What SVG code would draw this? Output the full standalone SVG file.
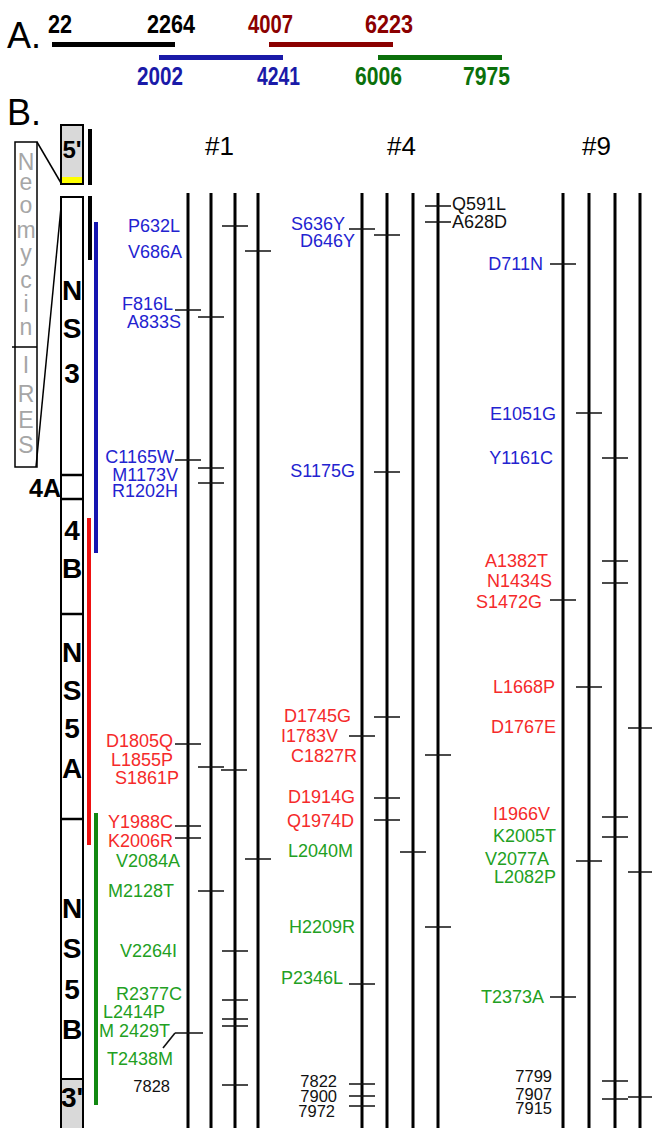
<svg xmlns="http://www.w3.org/2000/svg" width="652" height="1128" viewBox="0 0 652 1128">
<style>
text{font-family:"Liberation Sans",Arial,sans-serif}
.big{font-size:36px}
.num{font-size:26px;font-weight:bold}
.hdr{font-size:26px}
.lab{font-size:18px}
.e{text-anchor:end}
.bl{fill:#2323d0}
.rd{fill:#f52a2a}
.gr{fill:#22a022}
.k{fill:#111}
.n{font-size:16.5px}
.seg{font-size:28px;font-weight:bold;text-anchor:middle}
.neo{font-size:23px;fill:#a6a6a6;text-anchor:middle}
.col{stroke:#000;stroke-width:3}
.tk{stroke:#111;stroke-width:1.6}
</style>
<g id="partA">
<text class="big" x="7" y="48">A.</text>
<rect x="52" y="42" width="123" height="5" fill="#000"/>
<rect x="269" y="42" width="124" height="5" fill="#8b0000"/>
<rect x="159" y="55" width="124" height="5" fill="#1a1aa8"/>
<rect x="378" y="55" width="124" height="5" fill="#0b700b"/>
<text class="num" x="48" y="33" textLength="24" lengthAdjust="spacingAndGlyphs">22</text>
<text class="num" x="147" y="33" textLength="48" lengthAdjust="spacingAndGlyphs">2264</text>
<text class="num" x="248" y="33" textLength="45" lengthAdjust="spacingAndGlyphs" fill="#8b0000">4007</text>
<text class="num" x="365" y="33" textLength="48" lengthAdjust="spacingAndGlyphs" fill="#8b0000">6223</text>
<text class="num" x="137" y="85" textLength="46" lengthAdjust="spacingAndGlyphs" fill="#1a1aa8">2002</text>
<text class="num" x="257" y="85" textLength="43" lengthAdjust="spacingAndGlyphs" fill="#1a1aa8">4241</text>
<text class="num" x="355" y="85" textLength="47" lengthAdjust="spacingAndGlyphs" fill="#0b700b">6006</text>
<text class="num" x="463" y="85" textLength="47" lengthAdjust="spacingAndGlyphs" fill="#0b700b">7975</text>
</g>
<text class="big" x="7" y="125">B.</text>
<g id="neomycinIRES">
<rect x="15" y="142" width="22" height="325" fill="#fff" stroke="#000" stroke-width="1.5"/>
<line x1="12" y1="347" x2="37" y2="347" stroke="#000" stroke-width="1.5"/>
<line x1="37" y1="142" x2="61" y2="183" stroke="#000" stroke-width="1.5"/>
<line x1="36" y1="467" x2="62" y2="197" stroke="#000" stroke-width="1.5"/>
<text class="neo" x="26" y="170">N</text>
<text class="neo" x="26" y="190">e</text>
<text class="neo" x="26" y="213">o</text>
<text class="neo" x="26" y="238">m</text>
<text class="neo" x="26" y="261">y</text>
<text class="neo" x="26" y="288">c</text>
<text class="neo" x="26" y="312">i</text>
<text class="neo" x="26" y="335">n</text>
<text class="neo" x="26" y="373">I</text>
<text class="neo" x="26" y="402">R</text>
<text class="neo" x="26" y="428">E</text>
<text class="neo" x="26" y="453">S</text>
</g>
<g id="genome">
<rect x="61" y="125" width="22" height="59" fill="#d9d9d9" stroke="#000" stroke-width="2"/>
<rect x="62" y="177" width="20" height="6" fill="#ffff00"/>
<text x="72" y="158" font-size="24" font-weight="bold" text-anchor="middle">5'</text>
<rect x="61" y="197" width="22" height="940" fill="#fff" stroke="#000" stroke-width="2"/>
<rect x="61" y="1079" width="22" height="60" fill="#d9d9d9" stroke="#000" stroke-width="2"/>
<line x1="61" y1="475" x2="83" y2="475" stroke="#000" stroke-width="2.5"/>
<line x1="61" y1="499" x2="83" y2="499" stroke="#000" stroke-width="2.5"/>
<line x1="61" y1="614" x2="83" y2="614" stroke="#000" stroke-width="2.5"/>
<line x1="61" y1="819" x2="83" y2="819" stroke="#000" stroke-width="2.5"/>
<text class="seg" x="72" y="300">N</text>
<text class="seg" x="72" y="338">S</text>
<text class="seg" x="72" y="383">3</text>
<text x="45" y="497" font-size="25" font-weight="bold" text-anchor="middle">4A</text>
<text class="seg" x="72" y="540">4</text>
<text class="seg" x="72" y="578">B</text>
<text class="seg" x="72" y="662">N</text>
<text class="seg" x="72" y="700">S</text>
<text class="seg" x="72" y="738">5</text>
<text class="seg" x="72" y="778">A</text>
<text class="seg" x="72" y="918">N</text>
<text class="seg" x="72" y="958">S</text>
<text class="seg" x="72" y="999">5</text>
<text class="seg" x="72" y="1039">B</text>
<text class="seg" x="72" y="1107">3'</text>
<rect x="88" y="129" width="4" height="56" fill="#000"/>
<rect x="88" y="196" width="4" height="64" fill="#000"/>
<rect x="94" y="222" width="4" height="331" fill="#1515b0"/>
<rect x="87" y="518" width="4" height="327" fill="#ee1111"/>
<rect x="94" y="813" width="4" height="292" fill="#118811"/>
</g>
<g id="headers">
<text class="hdr" x="205" y="155">#1</text>
<text class="hdr" x="387" y="155">#4</text>
<text class="hdr" x="582" y="155">#9</text>
</g>
<g id="columns">
<line class="col" x1="188" y1="193" x2="188" y2="1128"/>
<line class="col" x1="211" y1="193" x2="211" y2="1128"/>
<line class="col" x1="235" y1="193" x2="235" y2="1128"/>
<line class="col" x1="258" y1="193" x2="258" y2="1128"/>
<line class="col" x1="362" y1="193" x2="362" y2="1128"/>
<line class="col" x1="387" y1="193" x2="387" y2="1128"/>
<line class="col" x1="413" y1="193" x2="413" y2="1128"/>
<line class="col" x1="438" y1="193" x2="438" y2="1128"/>
<line class="col" x1="563" y1="193" x2="563" y2="1128"/>
<line class="col" x1="589" y1="193" x2="589" y2="1128"/>
<line class="col" x1="615" y1="193" x2="615" y2="1128"/>
<line class="col" x1="640" y1="193" x2="640" y2="1128"/>
</g>
<g id="ticks">
<path class="tk" d="M222 226h26M245 251h26M175 310h26M198 317h26M175 460h26M198 468h26M198 483h26M175 744h26M198 767h26M221 770h26M175 826h26M175 838h26M245 859h26M198 891h26M222 951h26M222 1000h26M222 1019h26M222 1026h26M175 1033h28M222 1085h26"/>
<path class="tk" d="M175 1033L163 1048"/>
<path class="tk" d="M425 206h26M425 222h26M349 229h26M374 235h26M374 472h26M374 717h26M349 736h26M425 755h26M374 798h26M374 820h26M400 852h26M425 927h26M349 984h26M349 1084h26M349 1096h26M349 1106h26"/>
<path class="tk" d="M550 264h26M576 413h26M602 458h26M602 561h26M602 583h26M550 600h26M576 687h26M628 728h26M602 817h26M602 837h26M576 861h26M628 872h26M550 997h26M602 1081h26M602 1099h26M628 1097h26"/>
</g>
<g id="labels1" class="lab">
<text class="e bl" x="180" y="232">P632L</text>
<text class="e bl" x="182" y="258">V686A</text>
<text class="e bl" x="173" y="310">F816L</text>
<text class="e bl" x="181" y="328">A833S</text>
<text class="e bl" x="174" y="463">C1165W</text>
<text class="e bl" x="178" y="481">M1173V</text>
<text class="e bl" x="178" y="497">R1202H</text>
<text class="e rd" x="173" y="747">D1805Q</text>
<text class="e rd" x="173" y="766">L1855P</text>
<text class="e rd" x="179" y="784">S1861P</text>
<text class="e rd" x="173" y="828">Y1988C</text>
<text class="e rd" x="173" y="847">K2006R</text>
<text class="e gr" x="180" y="867">V2084A</text>
<text class="e gr" x="174" y="897">M2128T</text>
<text class="e gr" x="177" y="957">V2264I</text>
<text class="e gr" x="182" y="1000">R2377C</text>
<text class="e gr" x="165" y="1018">L2414P</text>
<text class="e gr" x="170" y="1037">M 2429T</text>
<text class="e gr" x="173" y="1065">T2438M</text>
<text class="e k n" x="170" y="1092">7828</text>
</g>
<g id="labels4" class="lab">
<text class="k" x="452" y="210">Q591L</text>
<text class="k" x="452" y="228">A628D</text>
<text class="e bl" x="345" y="230">S636Y</text>
<text class="e bl" x="355" y="247">D646Y</text>
<text class="e bl" x="355" y="477">S1175G</text>
<text class="e rd" x="351" y="722">D1745G</text>
<text class="e rd" x="338" y="742">I1783V</text>
<text class="e rd" x="357" y="762">C1827R</text>
<text class="e rd" x="355" y="803">D1914G</text>
<text class="e rd" x="354" y="827">Q1974D</text>
<text class="e gr" x="353" y="857">L2040M</text>
<text class="e gr" x="355" y="933">H2209R</text>
<text class="e gr" x="343" y="984">P2346L</text>
<text class="e k n" x="337" y="1087">7822</text>
<text class="e k n" x="337" y="1102">7900</text>
<text class="e k n" x="335" y="1117">7972</text>
</g>
<g id="labels9" class="lab">
<text class="e bl" x="543" y="270">D711N</text>
<text class="e bl" x="556" y="420">E1051G</text>
<text class="e bl" x="553" y="464">Y1161C</text>
<text class="e rd" x="548" y="567">A1382T</text>
<text class="e rd" x="552" y="587">N1434S</text>
<text class="e rd" x="542" y="608">S1472G</text>
<text class="e rd" x="555" y="693">L1668P</text>
<text class="e rd" x="556" y="733">D1767E</text>
<text class="e rd" x="550" y="820">I1966V</text>
<text class="e gr" x="556" y="842">K2005T</text>
<text class="e gr" x="549" y="865">V2077A</text>
<text class="e gr" x="556" y="883">L2082P</text>
<text class="e gr" x="544" y="1003">T2373A</text>
<text class="e k n" x="552" y="1082">7799</text>
<text class="e k n" x="552" y="1100">7907</text>
<text class="e k n" x="552" y="1114">7915</text>
</g>
</svg>
